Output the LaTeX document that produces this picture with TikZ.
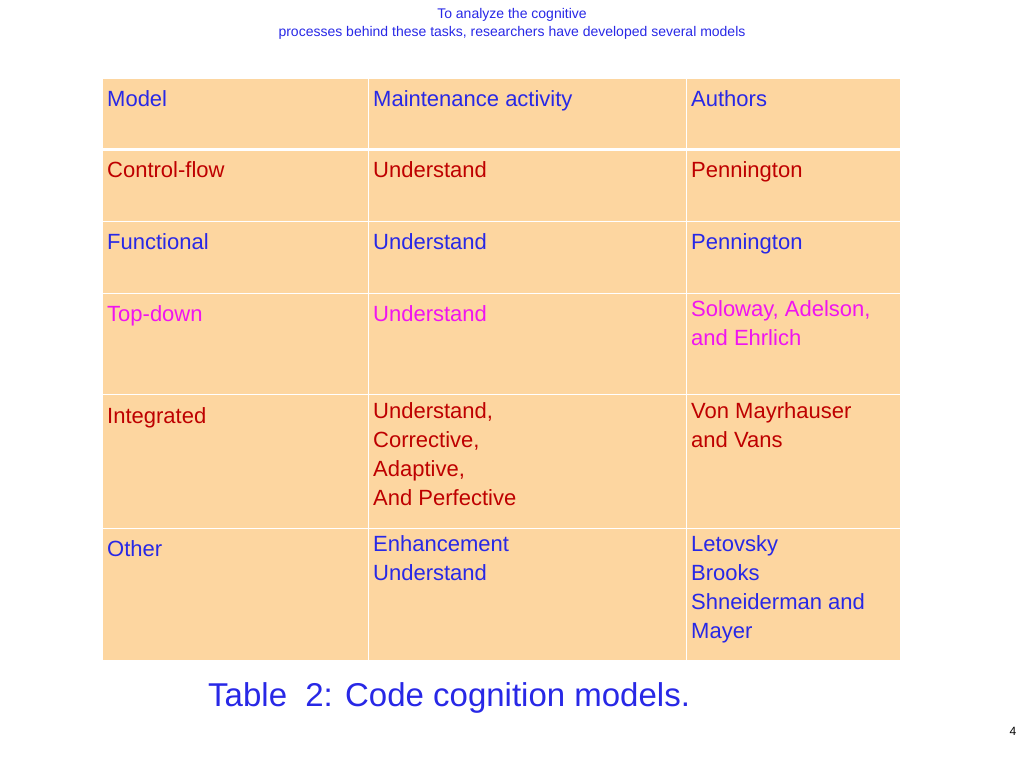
\documentclass[tikz,border=0pt]{standalone}
\usepackage{fontspec}
\setmainfont{Liberation Sans}
\definecolor{peach}{RGB}{253,214,160}
\definecolor{tblue}{RGB}{40,40,230}
\definecolor{tred}{RGB}{190,0,0}
\definecolor{tmag}{RGB}{240,20,240}
\begin{document}
\begin{tikzpicture}[x=1pt,y=-1pt,
  cell/.style={anchor=base west,inner sep=0pt,align=left,font=\fontsize{22}{29}\selectfont}]
\useasboundingbox (0,0) rectangle (1024,768);
\fill[peach] (103,79) rectangle (900,660);
\foreach \y in {221,293,394,528} \draw[white,line width=1pt] (103,\y) -- (900,\y);
\draw[white,line width=3pt] (103,149.5) -- (900,149.5);
\foreach \x in {368,686} \draw[white,line width=1pt] (\x,79) -- (\x,660);
\node[font=\fontsize{14}{18}\selectfont,text=tblue,align=center,anchor=base] (title) at (512,37)
  {To analyze the cognitive\\processes behind these tasks, researchers have developed several models};
\node[cell,text=tblue] (h1) at (107,106) {Model};
\node[cell,text=tblue] (h2) at (373,106) {Maintenance activity};
\node[cell,text=tblue] (h3) at (691,106) {Authors};
\node[cell,text=tred] (a1) at (107,177) {Control-flow};
\node[cell,text=tred] (a2) at (373,177) {Understand};
\node[cell,text=tred] (a3) at (691,177) {Pennington};
\node[cell,text=tblue] (b1) at (107,249) {Functional};
\node[cell,text=tblue] (b2) at (373,249) {Understand};
\node[cell,text=tblue] (b3) at (691,249) {Pennington};
\node[cell,text=tmag] (c1) at (107,321) {Top-down};
\node[cell,text=tmag] (c2) at (373,321) {Understand};
\node[cell,text=tmag,anchor=north west] (c3) at (691,300) {Soloway, Adelson,\\and Ehrlich};
\node[cell,text=tred] (d1) at (107,423) {Integrated};
\node[cell,text=tred,anchor=north west] (d2) at (373,402) {Understand,\\Corrective,\\Adaptive,\\And Perfective};
\node[cell,text=tred,anchor=north west] (d3) at (691,402) {Von Mayrhauser\\and Vans};
\node[cell,text=tblue] (e1) at (107,556) {Other};
\node[cell,text=tblue,anchor=north west] (e2) at (373,535) {Enhancement\\Understand};
\node[cell,text=tblue,anchor=north west] (e3) at (691,535) {Letovsky\\Brooks\\Shneiderman and\\Mayer};
\node[anchor=base west,inner sep=0pt,text=tblue,font=\fontsize{33}{40}\selectfont] (cap) at (208,706) {Table~ 2: Code cognition models.};
\node[anchor=base,inner sep=0pt,font=\fontsize{12}{14}\selectfont] (pg) at (1013,735) {4};
\end{tikzpicture}
\end{document}
